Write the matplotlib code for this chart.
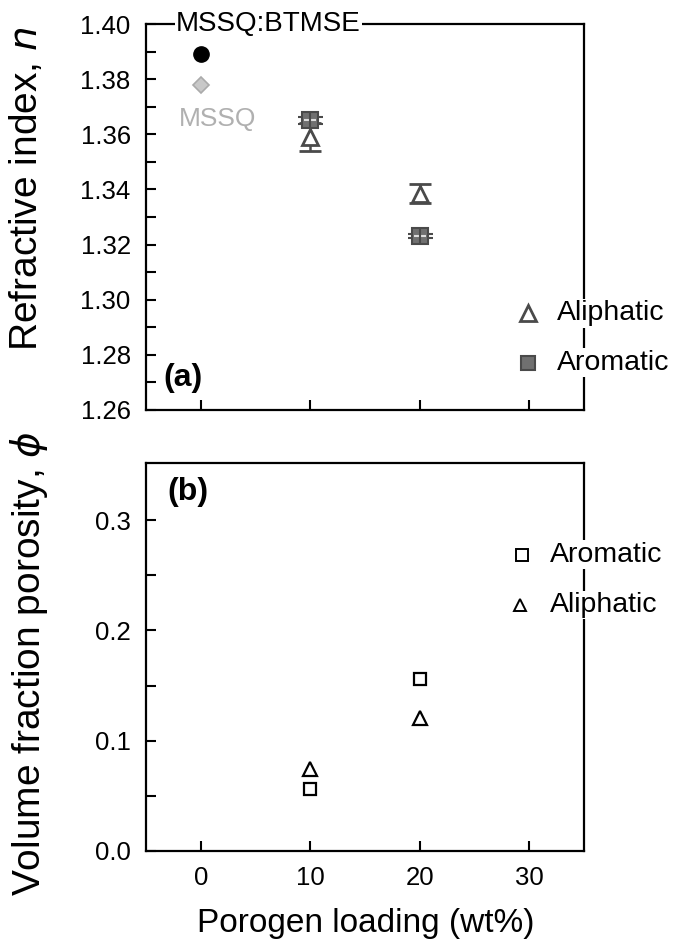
import matplotlib
matplotlib.use('Agg')
import matplotlib.pyplot as plt
from matplotlib.ticker import MultipleLocator, FixedLocator, FormatStrFormatter

plt.rcParams['font.family'] = ['Liberation Sans', 'DejaVu Sans']

# ---- data ----
loading = [10, 20]
n_aliphatic = [1.359, 1.3385]
n_aliphatic_err = [0.005, 0.0035]
n_aromatic = [1.365, 1.323]
n_aromatic_err = [0.0012, 0.0008]
btmse_x = [0]
n_btmse = [1.389]
mssq_x = [0]
n_mssq = [1.378]
phi_aromatic = [0.056, 0.156]
phi_aliphatic = [0.074, 0.121]
xticks = [0, 10, 20, 30]

fig = plt.figure(figsize=(6.73, 9.49), dpi=100)
ax1 = fig.add_axes([0.2169, 0.568, 0.6508, 0.4067])
ax2 = fig.add_axes([0.2169, 0.1033, 0.6508, 0.4089])

dark = '#4a4a4a'
for ax in (ax1, ax2):
    for s in ax.spines.values():
        s.set_linewidth(1.6)
    ax.set_xlim(-5, 35)
    ax.set_xticks(xticks)
    ax.tick_params(axis='both', which='both', direction='in', length=7,
                   width=1.5, top=False, right=False, labelsize=18.5, pad=11)

# ---- top panel ----
ax1.set_ylim(1.26, 1.40)
ax1.yaxis.set_major_locator(MultipleLocator(0.02))
ax1.yaxis.set_minor_locator(MultipleLocator(0.01))
ax1.yaxis.set_major_formatter(FormatStrFormatter('%.2f'))
ax1.tick_params(axis='x', labelbottom=False)

ax1.plot(btmse_x, n_btmse, 'o', color='black', ms=11, zorder=5)
ax1.plot(mssq_x, n_mssq, 'D', mfc='#c8c8c8', mec='#aaaaaa', ms=8, mew=1.2, zorder=5)
ax1.text(1.5, 1.3655, 'MSSQ', color='#b0b0b0', fontsize=19, ha='center', va='center')

ax1.errorbar(loading, n_aliphatic, yerr=n_aliphatic_err, fmt='^', mfc='white',
             mec=dark, ecolor=dark, ms=12, mew=2, capsize=8, capthick=2,
             elinewidth=1.8, zorder=4)
ax1.errorbar(loading, n_aromatic, yerr=n_aromatic_err, fmt='s', mfc='#707070',
             mec=dark, ecolor=dark, ms=11, mew=1.5, capsize=9, capthick=2,
             elinewidth=1.8, zorder=4)
ax1.plot(loading, n_aromatic, '_', color='#dddddd', ms=9, mew=1.5, zorder=6)
ax1.plot(loading, n_aromatic, '|', color=dark, ms=11, mew=1.5, zorder=6)

ax1.text(0.28, 1.0, 'MSSQ:BTMSE', transform=ax1.transAxes, fontsize=20,
         ha='center', va='center', zorder=10,
         bbox=dict(facecolor='white', edgecolor='none', pad=1))
ax1.text(0.04, 0.045, '(a)', transform=ax1.transAxes, fontsize=23,
         fontweight='bold', ha='left', va='bottom')

# legend (top)
ax1.plot([0.872], [0.251], '^', transform=ax1.transAxes, mfc='white', mec=dark,
         ms=11, mew=2, clip_on=False, zorder=10)
ax1.plot([0.872], [0.122], 's', transform=ax1.transAxes, mfc='#707070', mec=dark,
         ms=10, mew=1.5, clip_on=False, zorder=10)
for yy, lab in [(0.251, 'Aliphatic'), (0.122, 'Aromatic')]:
    ax1.text(0.938, yy, lab, transform=ax1.transAxes, fontsize=20.5, ha='left',
             va='center', clip_on=False, zorder=10,
             bbox=dict(facecolor='white', edgecolor='none', pad=1))

fig.text(0.040, 0.801, 'Refractive index, $\\it{n}$', rotation=90, fontsize=28,
         ha='center', va='center')

# ---- bottom panel ----
ax2.set_ylim(0, 0.352)
ax2.yaxis.set_major_locator(FixedLocator([0.0, 0.1, 0.2, 0.3]))
ax2.yaxis.set_minor_locator(FixedLocator([0.05, 0.15, 0.25]))
ax2.yaxis.set_major_formatter(FormatStrFormatter('%.1f'))

ax2.plot(loading, phi_aromatic, 's', mfc='white', mec='black', ms=9, mew=1.6, zorder=5)
ax2.plot(loading, phi_aliphatic, '^', mfc='white', mec='black', ms=10, mew=1.6, zorder=5)

ax2.text(0.05, 0.925, '(b)', transform=ax2.transAxes, fontsize=23,
         fontweight='bold', ha='left', va='center')

ax2.plot([0.858], [0.763], 's', transform=ax2.transAxes, mfc='white', mec='black',
         ms=8, mew=1.4, clip_on=False, zorder=10)
ax2.plot([0.854], [0.634], '^', transform=ax2.transAxes, mfc='white', mec='black',
         ms=9, mew=1.4, clip_on=False, zorder=10)
for yy, lab in [(0.763, 'Aromatic'), (0.634, 'Aliphatic')]:
    ax2.text(0.922, yy, lab, transform=ax2.transAxes, fontsize=20.5, ha='left',
             va='center', clip_on=False, zorder=10,
             bbox=dict(facecolor='white', edgecolor='none', pad=1))

fig.text(0.043, 0.301, 'Volume fraction porosity, $\\phi$', rotation=90, fontsize=28,
         ha='center', va='center')
fig.text(0.544, 0.027, 'Porogen loading (wt%)', fontsize=24, ha='center', va='center')

fig.savefig('out.png', dpi=100)
